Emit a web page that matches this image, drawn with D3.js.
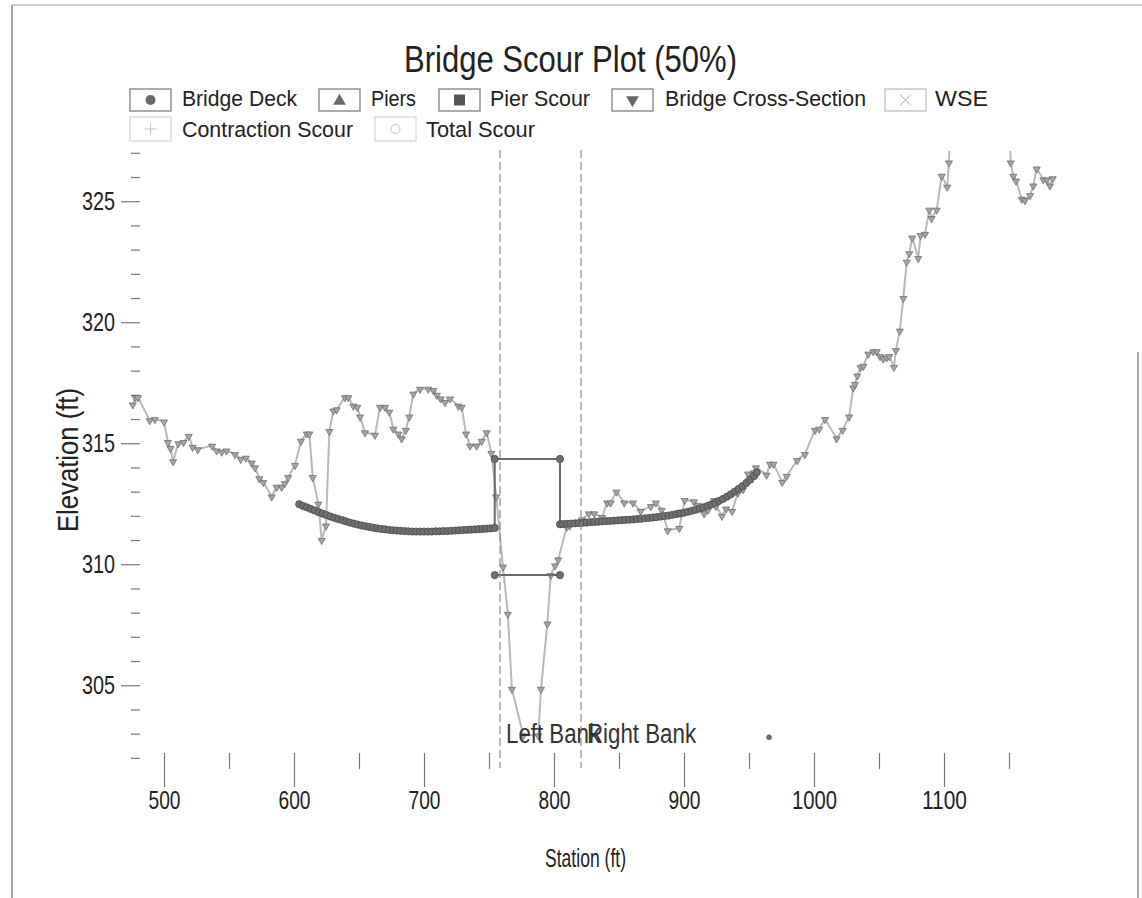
<!DOCTYPE html>
<html>
<head>
<meta charset="utf-8">
<script src="https://cdn.jsdelivr.net/npm/d3@7"></script>
<style>
  html, body { margin: 0; padding: 0; background: #fff; }
  svg { display: block; }
  text { font-family: 'Liberation Sans', Arial, sans-serif; fill: #222; }
</style>
</head>
<body>
<svg id="chart" width="1142" height="898"></svg>
<script>
// ---- Bridge cross-section ground profile (station ft, elevation ft) ----
const xsStation = [
  476, 478, 480, 489, 493, 500, 503, 505, 507, 511, 515, 519, 522, 526, 537, 540.5, 544.4, 548, 554.6, 559,
  563, 567.4, 570, 573.3, 576.4, 582.8, 586.7, 590.5, 593, 595.6, 600.8, 605.4, 609.8, 611.8, 614.4, 618.7, 621.3, 624.6, 627.2, 630.3,
  632.8, 639.2, 641.8, 645.6, 648.7, 650.8, 654.6, 662.3, 666.2, 670, 673.3, 676.4, 680.3, 682.8, 686, 688.7, 691.8, 696.9, 703.3, 707.2,
  709.8, 712.8, 716.2, 720, 726.4, 729, 732.3, 735.4, 740.5, 744.4, 748.2, 751.8, 755.6, 760.7, 764.5, 767.6, 776.4, 787.9, 790, 794.9,
  797.5, 800.8, 803.3, 809.8, 812, 821.5, 826.8, 831, 837, 841, 843.6, 848, 854, 860.7, 866.7, 874.5, 878.4, 882.8, 887.5, 896.4,
  900.5, 907.6, 911, 915.5, 918.5, 923.2, 924.6, 929.2, 932.3, 937, 941.5, 945.4, 949.3, 953.8, 955.4, 963.5, 966.2, 968.8, 975.5, 979,
  987, 993, 1000.8, 1004, 1008.5, 1017.4, 1022, 1027, 1030.2, 1031.5, 1033.3, 1035.9, 1038, 1041.8, 1045.6, 1048.2, 1050.8, 1053.3, 1055.9, 1057.9,
  1061.5, 1063, 1066, 1068.7, 1071.3, 1073.3, 1075.6, 1080.2, 1082, 1085.4, 1088.7, 1090.5, 1094.4, 1098.2, 1102.5, 1103.8, 1105.5, 1149.5, 1151.3, 1153.3,
  1155.4, 1159.8, 1162.3, 1166.2, 1168.7, 1171.3, 1176.4, 1179, 1181.5, 1183.6
];
const xsElevation = [
  316.6, 316.9, 316.9, 315.95, 316.0, 315.9, 315.05, 314.8, 314.25, 315.0, 315.05, 315.3, 314.85, 314.75, 314.9, 314.7, 314.65, 314.7, 314.55, 314.35,
  314.4, 314.2, 314.0, 313.55, 313.4, 312.8, 313.2, 313.2, 313.35, 313.6, 314.1, 315.1, 315.4, 315.4, 313.6, 312.5, 311.0, 311.6, 315.5, 316.35,
  316.4, 316.9, 316.9, 316.55, 316.5, 316.1, 315.45, 315.35, 316.5, 316.5, 316.3, 315.6, 315.4, 315.2, 315.55, 316.1, 317.05, 317.25, 317.25, 317.2,
  317.0, 316.85, 316.7, 316.85, 316.55, 316.5, 315.4, 314.9, 314.9, 315.1, 315.45, 314.6, 312.8, 309.9, 307.95, 304.85, 302.93, 302.93, 304.85, 307.55,
  309.55, 309.95, 310.2, 311.55, 311.6, 311.85, 312.1, 312.1, 311.95, 312.55, 312.55, 313.0, 312.55, 312.55, 312.2, 312.4, 312.55, 312.25, 311.4, 311.5,
  312.65, 312.6, 312.45, 312.1, 312.25, 312.65, 312.4, 312.0, 312.3, 312.2, 312.95, 313.1, 313.75, 313.8, 314.0, 313.7, 314.15, 314.15, 313.4, 313.65,
  314.3, 314.55, 315.55, 315.6, 316.0, 315.2, 315.55, 316.1, 317.3, 317.45, 317.8, 318.15, 318.2, 318.7, 318.8, 318.8, 318.6, 318.5, 318.55, 318.6,
  318.15, 318.85, 319.65, 321.0, 322.5, 322.85, 323.5, 322.65, 323.6, 323.65, 324.65, 324.3, 324.65, 326.05, 325.6, 326.6, 329.5, 329.5, 326.6, 326.05,
  325.85, 325.1, 325.05, 325.25, 325.65, 326.35, 325.9, 325.9, 325.65, 325.95
];

// ---- Bridge deck low chord and opening (station ft, elevation ft) ----
const deckStation = [
  604, 607, 610, 613, 616, 619, 622, 625, 628, 631, 634, 637, 640, 643, 646, 649, 652, 655, 658, 661,
  664, 667, 670, 673, 676, 679, 682, 685, 688, 691, 694, 697, 700, 703, 706, 709, 712, 715, 718, 721,
  724, 727, 730, 733, 736, 739, 742, 745, 748, 751, 754.4, 754.4, 804.6, 804.6,
  807, 810, 813, 816, 819, 822, 825, 828, 831, 834, 837, 840, 843, 846, 849, 852, 855, 858, 861, 864,
  867, 870, 873, 876, 879, 882, 885, 888, 891, 894, 897, 900, 903, 906, 909, 912, 915, 918, 921, 924,
  927, 930, 933, 936, 939, 942, 945, 948, 951, 954, 956
];
const deckElevation = [
  312.48, 312.41, 312.35, 312.28, 312.22, 312.15, 312.09, 312.03, 311.97, 311.92, 311.87, 311.82, 311.77, 311.72, 311.68, 311.64, 311.60, 311.57, 311.54, 311.51,
  311.48, 311.46, 311.44, 311.42, 311.40, 311.39, 311.38, 311.37, 311.36, 311.35, 311.35, 311.35, 311.35, 311.35, 311.35, 311.36, 311.36, 311.37, 311.37, 311.38,
  311.39, 311.40, 311.41, 311.42, 311.43, 311.44, 311.45, 311.46, 311.47, 311.48, 311.50, 314.35, 314.35, 311.65,
  311.66, 311.67, 311.68, 311.69, 311.70, 311.71, 311.72, 311.74, 311.75, 311.76, 311.77, 311.78, 311.79, 311.80, 311.81, 311.82, 311.83, 311.84, 311.85, 311.87,
  311.88, 311.90, 311.91, 311.93, 311.95, 311.97, 311.99, 312.01, 312.04, 312.07, 312.10, 312.13, 312.17, 312.21, 312.25, 312.30, 312.35, 312.41, 312.47, 312.54,
  312.62, 312.70, 312.79, 312.89, 313.00, 313.11, 313.23, 313.36, 313.50, 313.65, 313.80
];
// lower deck segment across the opening and an isolated deck point
const deckLowStation = [754.4, 804.6];
const deckLowElevation = [309.55, 309.55];
const deckLoneStation = [965.4];
const deckLoneElevation = [302.85];

// ---- Bank stations ----
const bankNames = ["Left Bank", "Right Bank"];
const bankStation = [758.5, 820.8];

// ---- Axis ticks ----
const xTickValues = [500, 550, 600, 650, 700, 750, 800, 850, 900, 950, 1000, 1050, 1100, 1150];
const yTickValues = d3.range(302, 328, 1);

// ---- Legend ----
const legendNames = ["Bridge Deck", "Piers", "Pier Scour", "Bridge Cross-Section", "WSE", "Contraction Scour", "Total Scour"];

const svg = d3.select("#chart");
const W = 1142, H = 898;

// condensed lettering: squeeze each label to its set run length
function fit(sel, len) {
  return sel.attr("textLength", len).attr("lengthAdjust", "spacingAndGlyphs");
}

// page frame
svg.append("line").attr("x1", 12).attr("x2", 1142).attr("y1", 5).attr("y2", 5).attr("stroke", "#9a9a9a").attr("stroke-width", 1);
svg.append("line").attr("x1", 12).attr("x2", 12).attr("y1", 5).attr("y2", H).attr("stroke", "#888").attr("stroke-width", 1.5);
svg.append("line").attr("x1", 1138).attr("x2", 1138).attr("y1", 352).attr("y2", H).attr("stroke", "#888").attr("stroke-width", 1.5);

const x = d3.scaleLinear().domain([470, 1245]).range([125, 1132.5]);
const y = d3.scaleLinear().domain([302.2, 327.1]).range([753, 150.4]);

// title
fit(svg.append("text").attr("x", 404).attr("y", 72)
  .style("font-size", "37px").text("Bridge Scour Plot (50%)"), 333);

// axis titles
fit(svg.append("text").attr("x", 545).attr("y", 867)
  .style("font-size", "25px").text("Station (ft)"), 81);
fit(svg.append("text").attr("transform", "translate(78,532) rotate(-90)")
  .style("font-size", "29px").text("Elevation (ft)"), 144);

// y axis
const yAxis = svg.append("g").attr("transform", "translate(140,0)")
  .call(d3.axisLeft(y).tickValues(yTickValues).tickSize(19).tickPadding(6)
    .tickFormat(d => d % 5 === 0 ? d : ""));
yAxis.select(".domain").remove();
yAxis.selectAll(".tick line").attr("stroke", "#777").attr("stroke-width", 1.2)
  .attr("x2", d => d % 5 === 0 ? -19 : -9);
yAxis.selectAll(".tick text").style("font-size", "25px").style("fill", "#222")
  .style("font-family", "'Liberation Sans', Arial, sans-serif")
  .filter(d => d % 5 === 0)
  .attr("textLength", 33).attr("lengthAdjust", "spacingAndGlyphs");

// x axis
const xAxis = svg.append("g").attr("transform", "translate(0,753)")
  .call(d3.axisBottom(x).tickValues(xTickValues).tickSize(34).tickPadding(4)
    .tickFormat(d => d % 100 === 0 ? d : ""));
xAxis.select(".domain").remove();
xAxis.selectAll(".tick line").attr("stroke", "#777").attr("stroke-width", 1.2)
  .attr("y2", d => d % 100 === 0 ? 34 : 16);
xAxis.selectAll(".tick text").style("font-size", "26px").style("fill", "#222")
  .style("font-family", "'Liberation Sans', Arial, sans-serif")
  .filter(d => d % 100 === 0)
  .attr("textLength", d => String(d).length === 4 ? 45 : 32).attr("lengthAdjust", "spacingAndGlyphs");

// clip for the plot area
svg.append("clipPath").attr("id", "plotClip").append("rect")
  .attr("x", 100).attr("y", 151).attr("width", 1035).attr("height", 640);
const plot = svg.append("g").attr("clip-path", "url(#plotClip)");

// bank station lines
bankStation.forEach(s => {
  svg.append("line").attr("x1", x(s)).attr("x2", x(s)).attr("y1", 150).attr("y2", 768)
    .attr("stroke", "#8a8a8a").attr("stroke-width", 1.2).attr("stroke-dasharray", "8,4");
});

// ground profile
const xsData = xsStation.map((s, i) => [s, xsElevation[i]]);
const line = d3.line().x(d => x(d[0])).y(d => y(d[1]));
plot.append("path").datum(xsData).attr("d", line)
  .attr("fill", "none").attr("stroke", "#b9b9b9").attr("stroke-width", 2);

const triDown = d3.symbol().type(d3.symbolTriangle).size(22);
plot.selectAll(".xsPt").data(xsData).enter().append("path")
  .attr("class", "xsPt").attr("d", triDown)
  .attr("transform", d => `translate(${x(d[0])},${y(d[1]) + 0.5}) rotate(180)`)
  .attr("fill", "#a5a5a5").attr("stroke", "#666").attr("stroke-width", 0.7);

// bridge deck
const deckData = deckStation.map((s, i) => [s, deckElevation[i]]);
const deckLow = deckLowStation.map((s, i) => [s, deckLowElevation[i]]);
const deckLone = deckLoneStation.map((s, i) => [s, deckLoneElevation[i]]);
[deckData, deckLow].forEach(seg => {
  plot.append("path").datum(seg).attr("d", line)
    .attr("fill", "none").attr("stroke", "#6a6a6a").attr("stroke-width", 2);
});
plot.selectAll(".deckPt").data(deckData.concat(deckLow)).enter().append("circle")
  .attr("class", "deckPt").attr("cx", d => x(d[0])).attr("cy", d => y(d[1])).attr("r", 3.6)
  .attr("fill", "#6f6f6f").attr("stroke", "#4d4d4d").attr("stroke-width", 0.8);
plot.selectAll(".deckLone").data(deckLone).enter().append("circle")
  .attr("class", "deckLone").attr("cx", d => x(d[0])).attr("cy", d => y(d[1])).attr("r", 2.5)
  .attr("fill", "#6f6f6f").attr("stroke", "#555").attr("stroke-width", 0.6);

// bank labels
const bankLen = [94, 109];
bankStation.forEach((s, i) => {
  fit(svg.append("text").attr("x", x(s) + 6).attr("y", 743)
    .style("font-size", "27px").style("fill", "#333").text(bankNames[i]), bankLen[i]);
});

// legend
const legendPos = [
  { bx: 130, by: 89, tx: 182, ty: 106, len: 115 },
  { bx: 319, by: 89, tx: 371, ty: 106, len: 45 },
  { bx: 439, by: 89, tx: 490, ty: 106, len: 100 },
  { bx: 612, by: 89, tx: 665, ty: 106, len: 201 },
  { bx: 885, by: 89, tx: 935, ty: 106, len: 53 },
  { bx: 130, by: 117, tx: 182, ty: 137, len: 171 },
  { bx: 375, by: 117, tx: 426, ty: 137, len: 109 }
];
const lg = svg.append("g");
legendNames.forEach((name, i) => {
  const p = legendPos[i];
  lg.append("rect").attr("x", p.bx).attr("y", p.by).attr("width", 41).attr("height", i < 5 ? 22 : 24)
    .attr("fill", "#fff").attr("stroke", i < 4 ? "#777" : (i === 4 ? "#bbb" : "#d5d5d5")).attr("stroke-width", 1.2);
  const cx = p.bx + 20.5, cy = p.by + (i < 5 ? 11 : 12);
  if (i === 0) {
    lg.append("circle").attr("cx", cx).attr("cy", cy).attr("r", 5).attr("fill", "#6a6a6a");
  } else if (i === 1) {
    lg.append("path").attr("d", d3.symbol().type(d3.symbolTriangle).size(70))
      .attr("transform", `translate(${cx},${cy + 1})`).attr("fill", "#6a6a6a");
  } else if (i === 2) {
    lg.append("rect").attr("x", cx - 5.5).attr("y", cy - 5.5).attr("width", 11).attr("height", 11).attr("fill", "#555");
  } else if (i === 3) {
    lg.append("path").attr("d", d3.symbol().type(d3.symbolTriangle).size(70))
      .attr("transform", `translate(${cx},${cy}) rotate(180)`).attr("fill", "#6a6a6a");
  } else if (i === 4) {
    lg.append("path").attr("d", d3.symbol().type(d3.symbolTimes).size(80))
      .attr("transform", `translate(${cx},${cy})`).attr("fill", "none").attr("stroke", "#aaa").attr("stroke-width", 1);
  } else if (i === 5) {
    lg.append("path").attr("d", "M" + (cx - 6) + "," + cy + "H" + (cx + 6) + "M" + cx + "," + (cy - 6) + "V" + (cy + 6))
      .attr("fill", "none").attr("stroke", "#c4c4c4").attr("stroke-width", 1);
  } else {
    lg.append("circle").attr("cx", cx).attr("cy", cy).attr("r", 4.5).attr("fill", "none").attr("stroke", "#c4c4c4").attr("stroke-width", 1);
  }
  fit(lg.append("text").attr("x", p.tx).attr("y", p.ty).style("font-size", "22px").text(name), p.len);
});
</script>
</body>
</html>
